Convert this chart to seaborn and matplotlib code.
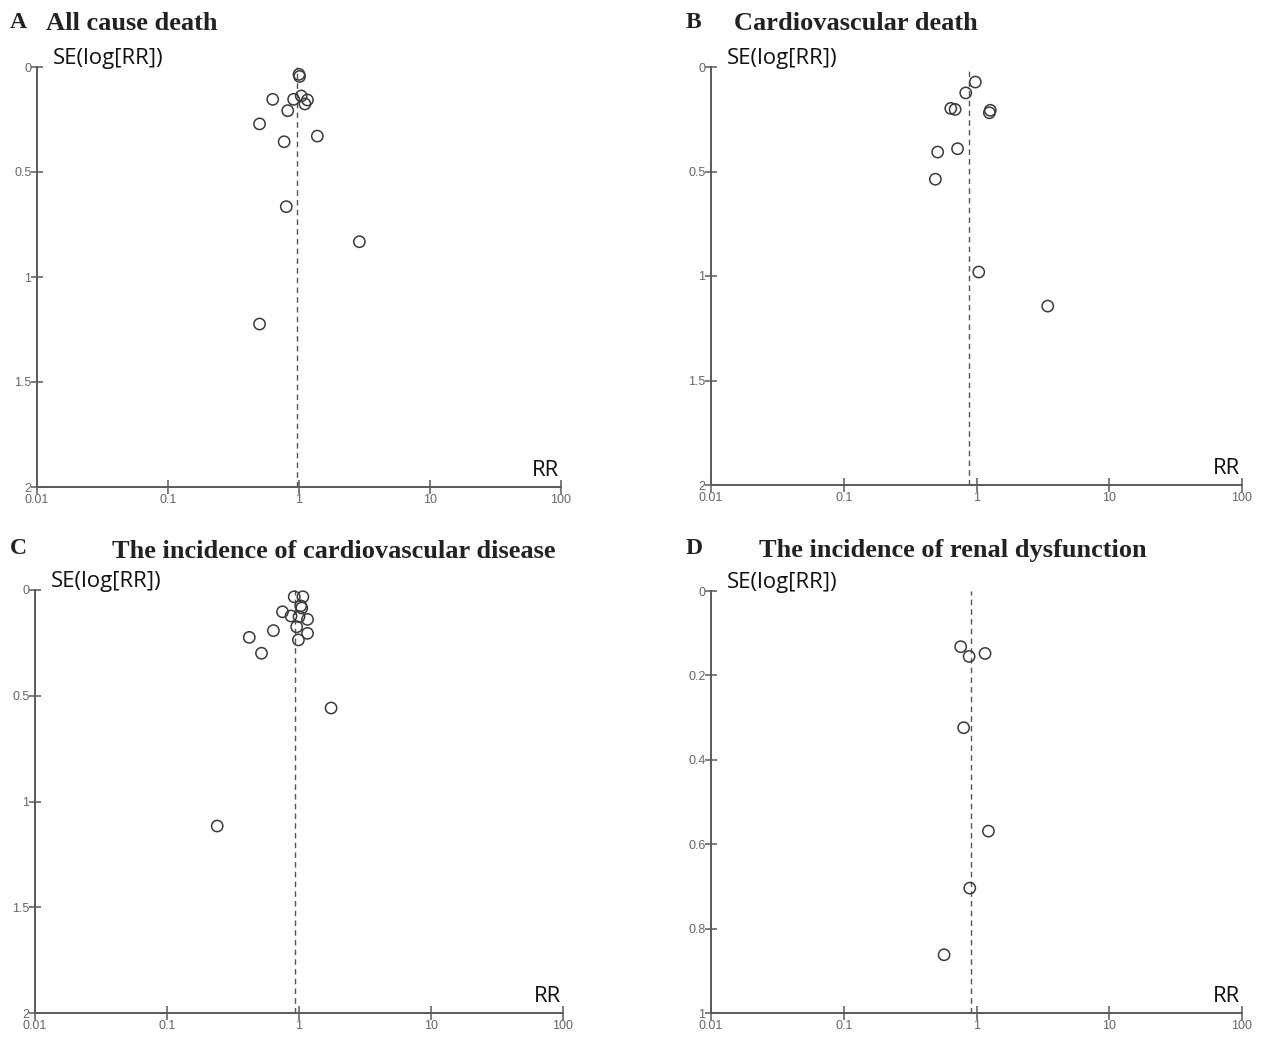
import matplotlib
matplotlib.use('Agg')
import matplotlib.pyplot as plt
import seaborn as sns

# Panel A - all cause death
rr_a = [1.00, 1.01, 0.63, 0.91, 1.04, 1.16, 1.11, 0.82, 0.50, 1.38, 0.77, 0.80, 2.89, 0.50]
se_a = [0.035, 0.045, 0.154, 0.154, 0.138, 0.157, 0.176, 0.208, 0.271, 0.329, 0.356, 0.665, 0.832, 1.224]
pooled_a = 0.96

# Panel B - cardiovascular death
rr_b = [0.98, 0.83, 0.64, 0.69, 1.27, 1.25, 0.51, 0.72, 0.49, 1.04, 3.44]
se_b = [0.072, 0.124, 0.198, 0.203, 0.207, 0.219, 0.407, 0.391, 0.537, 0.981, 1.144]
pooled_b = 0.88

# Panel C - incidence of cardiovascular disease
rr_c = [0.92, 1.07, 1.03, 1.05, 0.75, 0.87, 1.00, 1.16, 0.96, 1.16, 0.99, 0.64, 0.42, 0.52, 1.75, 0.24]
se_c = [0.032, 0.032, 0.075, 0.085, 0.103, 0.123, 0.126, 0.139, 0.174, 0.205, 0.236, 0.192, 0.224, 0.299, 0.558, 1.116]
pooled_c = 0.94

# Panel D - incidence of renal dysfunction
rr_d = [0.76, 0.88, 1.16, 0.80, 1.23, 0.89, 0.57]
se_d = [0.132, 0.155, 0.148, 0.324, 0.569, 0.704, 0.862]
pooled_d = 0.91

x_ticks = [0.01, 0.1, 1, 10, 100]
x_labels = ['0.01', '0.1', '1', '10', '100']
y_ticks_2 = [0, 0.5, 1, 1.5, 2]
y_labels_2 = ['0', '0.5', '1', '1.5', '2']
y_ticks_1 = [0, 0.2, 0.4, 0.6, 0.8, 1]
y_labels_1 = ['0', '0.2', '0.4', '0.6', '0.8', '1']

letters = ['A', 'B', 'C', 'D']
titles = ['All cause death', 'Cardiovascular death',
          'The incidence of cardiovascular disease', 'The incidence of renal dysfunction']

sns.set_style('white')

W, H = 1261, 1040
fig = plt.figure(figsize=(W / 100, H / 100), dpi=100)

# axes boxes in pixels: left, top, right, bottom
boxes = [(37, 67, 561, 487), (711, 67, 1242, 485),
         (35, 590, 563, 1013), (711, 591, 1242, 1013)]
panels = [(rr_a, se_a, pooled_a, 2), (rr_b, se_b, pooled_b, 2),
          (rr_c, se_c, pooled_c, 2), (rr_d, se_d, pooled_d, 1)]
letter_pos = [(10, 23), (686, 23), (10, 548), (686, 548)]
title_pos = [(46, 24), (734, 24), (112, 551), (759, 551)]

axis_col = '#5a5a5a'

for i in range(4):
    l, t, r, b = boxes[i]
    ax = fig.add_axes([l / W, 1 - b / H, (r - l) / W, (b - t) / H])
    rr, se, pooled, ymax = panels[i]

    ax.axvline(pooled, color='#555555', lw=1.0, ls=(0, (4, 3)), zorder=1)
    sns.scatterplot(x=rr, y=se, ax=ax, marker='o', s=66, color='none',
                    edgecolor='#3a3a3a', linewidth=1.1, zorder=3, clip_on=False)
    for coll in ax.collections:
        coll.set_facecolor('none')

    ax.set_xscale('log')
    ax.set_xlim(0.01, 100)
    ax.set_ylim(ymax, 0)
    ax.set_xticks(x_ticks)
    ax.set_xticklabels(x_labels)
    ax.minorticks_off()
    if ymax == 2:
        ax.set_yticks(y_ticks_2)
        ax.set_yticklabels(y_labels_2)
    else:
        ax.set_yticks(y_ticks_1)
        ax.set_yticklabels(y_labels_1)

    sns.despine(ax=ax)
    for sp in ['left', 'bottom']:
        ax.spines[sp].set_color(axis_col)
        ax.spines[sp].set_linewidth(1.4)
    ax.tick_params(axis='x', bottom=True, direction='inout', length=10, width=1.1,
                   color=axis_col, labelsize=9, labelcolor='#666666', pad=0)
    ax.tick_params(axis='y', left=True, direction='inout', length=8, width=1.1,
                   color=axis_col, labelsize=9, labelcolor='#666666', pad=0)
    for lab in ax.get_xticklabels() + ax.get_yticklabels():
        lab.set_fontfamily('Liberation Sans')

    ax.set_xlabel('')
    ax.set_ylabel('')
    ax.text(0.997, 0.015, 'RR', transform=ax.transAxes, ha='right', va='bottom',
            fontsize=16, fontfamily='Open Sans', color='#111111')
    ax.text(0.03, 0.995, 'SE(log[RR])', transform=ax.transAxes, ha='left', va='bottom',
            fontsize=16, fontfamily='Open Sans', color='#111111')

    lx, ly = letter_pos[i]
    fig.text(lx / W, 1 - ly / H, letters[i], ha='left', va='center',
             fontsize=17, fontweight='bold', fontfamily='Liberation Serif', color='#222222')
    tx, ty = title_pos[i]
    fig.text(tx / W, 1 - ty / H, titles[i], ha='left', va='center',
             fontsize=19, fontweight='bold', fontfamily='Liberation Serif', color='#222222')

fig.savefig('out.png', dpi=100)
